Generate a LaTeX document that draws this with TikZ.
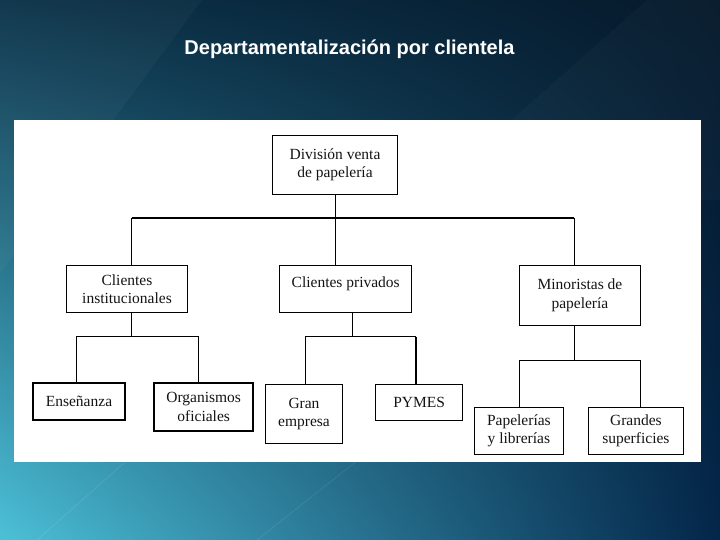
\documentclass[tikz,border=0pt]{standalone}
\usepackage{fontspec}
\setmainfont{Liberation Serif}
\newfontfamily\titlefont{Liberation Sans}
\usetikzlibrary{shadings}

\definecolor{bgUL}{HTML}{0B3249}
\definecolor{bgUR}{HTML}{06192B}
\definecolor{bgLL}{HTML}{4CC0D8}
\definecolor{bgLR}{HTML}{03264A}

\begin{document}
\begin{tikzpicture}[x=1pt, y=-1pt,
		box/.style={draw, fill=white, line width=0.8pt, inner sep=0pt, align=center,
			font=\fontsize{15.5}{18.5}\selectfont, text=black!92},
		boldbox/.style={box, line width=1.8pt},
		link/.style={line width=0.8pt},
		heavy/.style={line width=2pt}]
		\useasboundingbox (0,0) rectangle (720,540);
		
		% fondo
		\shade[upper left=bgUL, upper right=bgUR, lower left=bgLL, lower right=bgLR] (0,0) rectangle (720,540);
		\fill[white, opacity=0.03] (0,0) -- (202,0) -- (0,273) -- cycle;
		\fill[white, opacity=0.025] (647,0) -- (720,0) -- (720,200) -- (421,200) -- cycle;
		\draw[white, opacity=0.12, line width=0.6pt] (37,540) -- (124,463);
		\draw[white, opacity=0.1, line width=0.6pt] (257,540) -- (358,460);
		
		\node[font=\titlefont\bfseries\fontsize{20}{24}\selectfont, text=white, anchor=base] (title) at (349.5,55) {Departamentalización por clientela};
		
		\fill[white] (13.8,120) rectangle (701,461.7);
		
		\node[box, minimum width=125.3, minimum height=59.3] (div) at (335,164.7) {División venta\\de papelería};
		
		\node[box, minimum width=120.7, minimum height=46.6] (inst) at (127,289) {Clientes\\institucionales};
		\node[box, minimum width=132.2, minimum height=46.6] (priv) at (345.7,289) {Clientes privados\\[-10pt]\strut};
		\node[box, minimum width=121.2, minimum height=59.3] (minor) at (579.9,295.3) {Minoristas de\\papelería};
		
		\node[boldbox, minimum width=91.9, minimum height=37.3] (ens) at (79,401.3) {Enseñanza};
		\node[boldbox, minimum width=98.7, minimum height=48.3] (org) at (203.7,406.8) {Organismos\\oficiales};
		\node[box, minimum width=77.1, minimum height=59] (gran) at (304,413.8) {Gran\\empresa};
		\node[box, minimum width=87.2, minimum height=35.7] (pymes) at (419.2,402.1) {PYMES};
		\node[box, minimum width=89.1, minimum height=46.7] (pap) at (518.9,430.7) {Papelerías\\y librerías};
		\node[box, minimum width=94.6, minimum height=46.7] (gsup) at (635.9,430.7) {Grandes\\superficies};
		
		\draw[line width=1.6pt] (minor.south west) -- (minor.south east);
		\draw[line width=1.6pt] (pymes.south west) -- (pymes.south east);
		
		% primer nivel
		\coordinate (jl) at (131.8,217.7);
		\coordinate (jr) at (574,217.7);
		\draw[heavy] (jl) -- (jr);
		\draw[link] (div.south) -- (div.south |- priv.north);
		\draw[link] (jl) -- (jl |- inst.north);
		\draw[link] (jr) -- (jr |- minor.north);
		
		% clientes institucionales
		\coordinate (ia) at (76.2,336.7);
		\coordinate (ib) at (198.3,336.7);
		\draw[link] (jl |- inst.south) -- (jl |- ia);
		\draw[link] (ia |- ens.north) -- (ia) -- (ib) -- (ib |- org.north);
		
		% clientes privados
		\coordinate (pa) at (305.3,336.7);
		\coordinate (pb) at (416,336.7);
		\coordinate (pc) at (352.6,336.7);
		\draw[link] (pc |- priv.south) -- (pc);
		\draw[link] (pa |- gran.north) -- (pa) -- (pb);
		\draw[line width=1.6pt] (pb) -- (pb |- pymes.north);
		
		% minoristas
		\coordinate (ma) at (519.3,360);
		\coordinate (mb) at (640.5,360);
		\draw[link] (jr |- minor.south) -- (jr |- ma);
		\draw[link] (ma |- pap.north) -- (ma) -- (mb) -- (mb |- gsup.north);
		
\end{tikzpicture}
\end{document}
